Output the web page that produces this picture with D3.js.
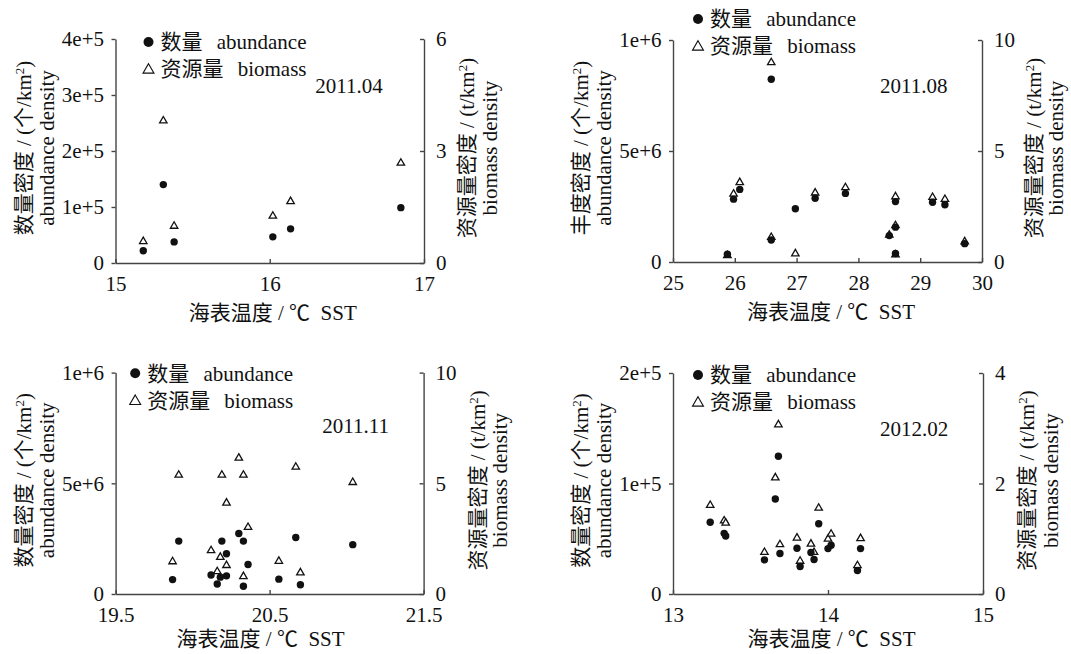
<!DOCTYPE html>
<html>
<head>
<meta charset="utf-8">
<script src="https://cdn.jsdelivr.net/npm/d3@7"></script>
</head>
<body style="margin:0;background:#fff">
<svg id="chart" width="1071" height="654"></svg>
<script>
// ---- data ----
// 2011.04
const aprSST       = [15.18, 15.31, 15.38, 16.02, 16.135, 16.85];
const aprAbundance = [22000, 140000, 37700, 46700, 61000, 98800];
const aprBiomass   = [0.60, 3.83, 1.01, 1.28, 1.67, 2.70];

// 2011.08
const augSST       = [25.88, 25.98, 26.08, 26.59, 26.59, 26.98, 27.30, 27.79, 28.50, 28.60, 28.60, 28.60, 29.20, 29.40, 29.72];
const augAbundance = [35000, 283000, 327000, 823000, 99400, 240000, 287000, 309000, 119000, 272000, 157000, 38000, 269000, 258000, 82600];
const augBiomass   = [0.33, 3.10, 3.62, 9.02, 1.15, 0.41, 3.15, 3.39, 1.25, 2.98, 1.68, 0.36, 2.95, 2.86, 0.95];

// 2011.11
const novSST       = [19.87, 19.91, 20.12, 20.16, 20.18, 20.19, 20.22, 20.22, 20.30, 20.33, 20.33, 20.36, 20.56, 20.67, 20.70, 21.04];
const novAbundance = [65000, 239000, 86000, 45000, 76000, 239000, 182000, 82000, 273000, 239000, 35000, 133000, 67000, 255000, 42000, 223000];
const novBiomass   = [1.50, 5.41, 2.00, 1.05, 1.70, 5.41, 4.15, 1.33, 6.18, 5.41, 0.83, 3.05, 1.52, 5.77, 1.00, 5.08];

// 2012.02
const febSST       = [13.24, 13.33, 13.34, 13.59, 13.66, 13.68, 13.69, 13.80, 13.82, 13.89, 13.91, 13.94, 14.00, 14.02, 14.19, 14.21];
const febAbundance = [65000, 54900, 52500, 30900, 86000, 124700, 36600, 41400, 24900, 37500, 31200, 63600, 41100, 44100, 21300, 41100];
const febBiomass   = [1.62, 1.34, 1.30, 0.77, 2.12, 3.08, 0.91, 1.03, 0.61, 0.92, 0.77, 1.57, 1.01, 1.10, 0.53, 1.02];

// ticks
const aprXTicks = [15, 16, 17];
const augXTicks = [25, 26, 27, 28, 29, 30];
const novXTicks = [19.5, 20.5, 21.5];
const febXTicks = [13, 14, 15];

const aprATicks = [0, 1e5, 2e5, 3e5, 4e5];
const aprALabels = ["0", "1e+5", "2e+5", "3e+5", "4e+5"];
const augATicks = [0, 5e5, 1e6];
const augALabels = ["0", "5e+6", "1e+6"];
const novATicks = [0, 5e5, 1e6];
const novALabels = ["0", "5e+6", "1e+6"];
const febATicks = [0, 1e5, 2e5];
const febALabels = ["0", "1e+5", "2e+5"];

const aprBTicks = [0, 3, 6];
const augBTicks = [0, 5, 10];
const novBTicks = [0, 5, 10];
const febBTicks = [0, 2, 4];

// ---- layout ----
const panels = [
  { label: "2011.04", leftName: "数量密度", sst: aprSST, ab: aprAbundance, bio: aprBiomass,
    xDomain: [15, 17], aDomain: [0, 4e5], bDomain: [0, 6],
    xTicks: aprXTicks, xFmt: d => d3.format("d")(d), aTicks: aprATicks, aLabels: aprALabels, bTicks: aprBTicks,
    left: 115.5, right: 424, top: 39, bottom: 263,
    legX: 33, legY: 3, yearX: 233.5, yearY: 47, xTitleDx: 3, xTitleY: 50, rTitle: [43, 66] },
  { label: "2011.08", leftName: "丰度密度", sst: augSST, ab: augAbundance, bio: augBiomass,
    xDomain: [25, 30], aDomain: [0, 1e6], bDomain: [0, 10],
    xTicks: augXTicks, xFmt: d => d3.format("d")(d), aTicks: augATicks, aLabels: augALabels, bTicks: augBTicks,
    left: 673, right: 982, top: 40, bottom: 262,
    legX: 25, legY: -21, yearX: 240.7, yearY: 46, xTitleDx: 3.5, xTitleY: 50, rTitle: [52, 74] },
  { label: "2011.11", leftName: "数量密度", sst: novSST, ab: novAbundance, bio: novBiomass,
    xDomain: [19.5, 21.5], aDomain: [0, 1e6], bDomain: [0, 10],
    xTicks: novXTicks, xFmt: d => d3.format(".1f")(d), aTicks: novATicks, aLabels: novALabels, bTicks: novBTicks,
    left: 115.6, right: 423.6, top: 372.6, bottom: 594,
    legX: 19.6, legY: 0.7, yearX: 240, yearY: 53, xTitleDx: -9, xTitleY: 45, rTitle: [54, 76] },
  { label: "2012.02", leftName: "数量密度", sst: febSST, ab: febAbundance, bio: febBiomass,
    xDomain: [13, 15], aDomain: [0, 2e5], bDomain: [0, 4],
    xTicks: febXTicks, xFmt: d => d3.format("d")(d), aTicks: febATicks, aLabels: febALabels, bTicks: febBTicks,
    left: 673, right: 983, top: 373, bottom: 594,
    legX: 25, legY: 2, yearX: 241, yearY: 56, xTitleDx: 3.5, xTitleY: 45, rTitle: [44, 68] }
];

const FONT = "'Liberation Serif', 'Noto Sans CJK SC'";
const svg = d3.select("#chart");
const axisColor = "#444";
const triangle = d3.symbol().type(d3.symbolTriangle);

function styleAxis(g) {
  g.attr("font-family", null).attr("font-size", null);
  g.select(".domain").attr("stroke", axisColor).attr("stroke-width", 1.4);
  g.selectAll(".tick line").attr("stroke", axisColor).attr("stroke-width", 1.4);
  g.selectAll(".tick text").style("font-family", FONT).style("font-size", "21px").attr("fill", "#111");
}

function label(g) {
  return g.append("text").style("font-family", FONT).style("font-size", "21px").attr("fill", "#111");
}

function addUnitTitle(g, x, y, main, unit) {
  const t = label(g)
    .attr("transform", `translate(${x},${y}) rotate(-90)`)
    .attr("text-anchor", "middle")
    .attr("dy", "0.35em");
  t.append("tspan").text(`${main} / (${unit}/km`);
  t.append("tspan").attr("baseline-shift", "super").style("font-size", "13px").text("2");
  t.append("tspan").text(")");
}

panels.forEach(p => {
  const g = svg.append("g");
  const x = d3.scaleLinear().domain(p.xDomain).range([p.left, p.right]);
  const yA = d3.scaleLinear().domain(p.aDomain).range([p.bottom, p.top]);
  const yB = d3.scaleLinear().domain(p.bDomain).range([p.bottom, p.top]);
  const midY = (p.top + p.bottom) / 2 - 3;

  // bottom axis, ticks pointing inward
  g.append("g")
    .attr("transform", `translate(0,${p.bottom})`)
    .call(d3.axisBottom(x).tickValues(p.xTicks).tickFormat(p.xFmt)
      .tickSizeInner(-4).tickSizeOuter(0).tickPadding(13))
    .call(styleAxis);

  // left axis (abundance)
  g.append("g")
    .attr("transform", `translate(${p.left},0)`)
    .call(d3.axisLeft(yA).tickValues(p.aTicks).tickFormat((d, i) => p.aLabels[i])
      .tickSizeInner(4).tickSizeOuter(0).tickPadding(7.5))
    .call(styleAxis);

  // right axis (biomass), ticks pointing inward, labels outside
  g.append("g")
    .attr("transform", `translate(${p.right},0)`)
    .call(d3.axisLeft(yB).tickValues(p.bTicks).tickFormat(d3.format("d"))
      .tickSizeInner(4).tickSizeOuter(0))
    .call(styleAxis)
    .call(a => a.selectAll(".tick text").attr("x", 12).attr("text-anchor", "start"));

  // axis titles
  addUnitTitle(g, p.left - 92, midY, p.leftName, "个");
  label(g)
    .attr("transform", `translate(${p.left - 69},${midY}) rotate(-90)`)
    .attr("text-anchor", "middle").attr("dy", "0.35em")
    .text("abundance density");

  addUnitTitle(g, p.right + p.rTitle[0], midY, "资源量密度", "t");
  label(g)
    .attr("transform", `translate(${p.right + p.rTitle[1]},${midY}) rotate(-90)`)
    .attr("text-anchor", "middle").attr("dy", "0.35em")
    .text("biomass density");

  label(g)
    .attr("x", (p.left + p.right) / 2 + p.xTitleDx)
    .attr("y", p.bottom + p.xTitleY)
    .attr("dy", "0.35em")
    .attr("text-anchor", "middle")
    .style("white-space", "pre")
    .text("海表温度 / ℃  SST");

  // survey label
  label(g)
    .attr("x", p.left + p.yearX)
    .attr("y", p.top + p.yearY)
    .attr("dy", "0.35em")
    .attr("text-anchor", "middle")
    .text(p.label);

  // biomass triangles (drawn first, circles sit on top)
  g.selectAll(".tri")
    .data(p.sst.map((s, i) => ({ s, v: p.bio[i] })))
    .enter().append("path")
    .attr("class", "tri")
    .attr("d", triangle.size(24)())
    .attr("transform", d => `translate(${x(d.s)},${yB(d.v) + 0.8})`)
    .attr("fill", "#fff")
    .attr("stroke", "#111")
    .attr("stroke-width", 1.3);

  g.selectAll(".dot")
    .data(p.sst.map((s, i) => ({ s, v: p.ab[i] })))
    .enter().append("circle")
    .attr("class", "dot")
    .attr("cx", d => x(d.s))
    .attr("cy", d => yA(d.v))
    .attr("r", 3.7)
    .attr("fill", "#111");

  // legend
  const lx = p.left + p.legX, ly = p.top + p.legY;
  g.append("circle").attr("cx", lx).attr("cy", ly).attr("r", 5).attr("fill", "#111");
  g.append("path")
    .attr("d", triangle.size(52)())
    .attr("transform", `translate(${lx},${ly + 28})`)
    .attr("fill", "#fff").attr("stroke", "#111").attr("stroke-width", 1.1);

  const rows = [["数量", "abundance"], ["资源量", "biomass"]];
  rows.forEach((r, i) => {
    label(g).attr("x", lx + 12).attr("y", ly + i * 27).attr("dy", "0.35em").text(r[0]);
    label(g).attr("x", lx + 158).attr("y", ly + i * 27).attr("dy", "0.35em")
      .attr("text-anchor", "end").text(r[1]);
  });
});
</script>
</body>
</html>
